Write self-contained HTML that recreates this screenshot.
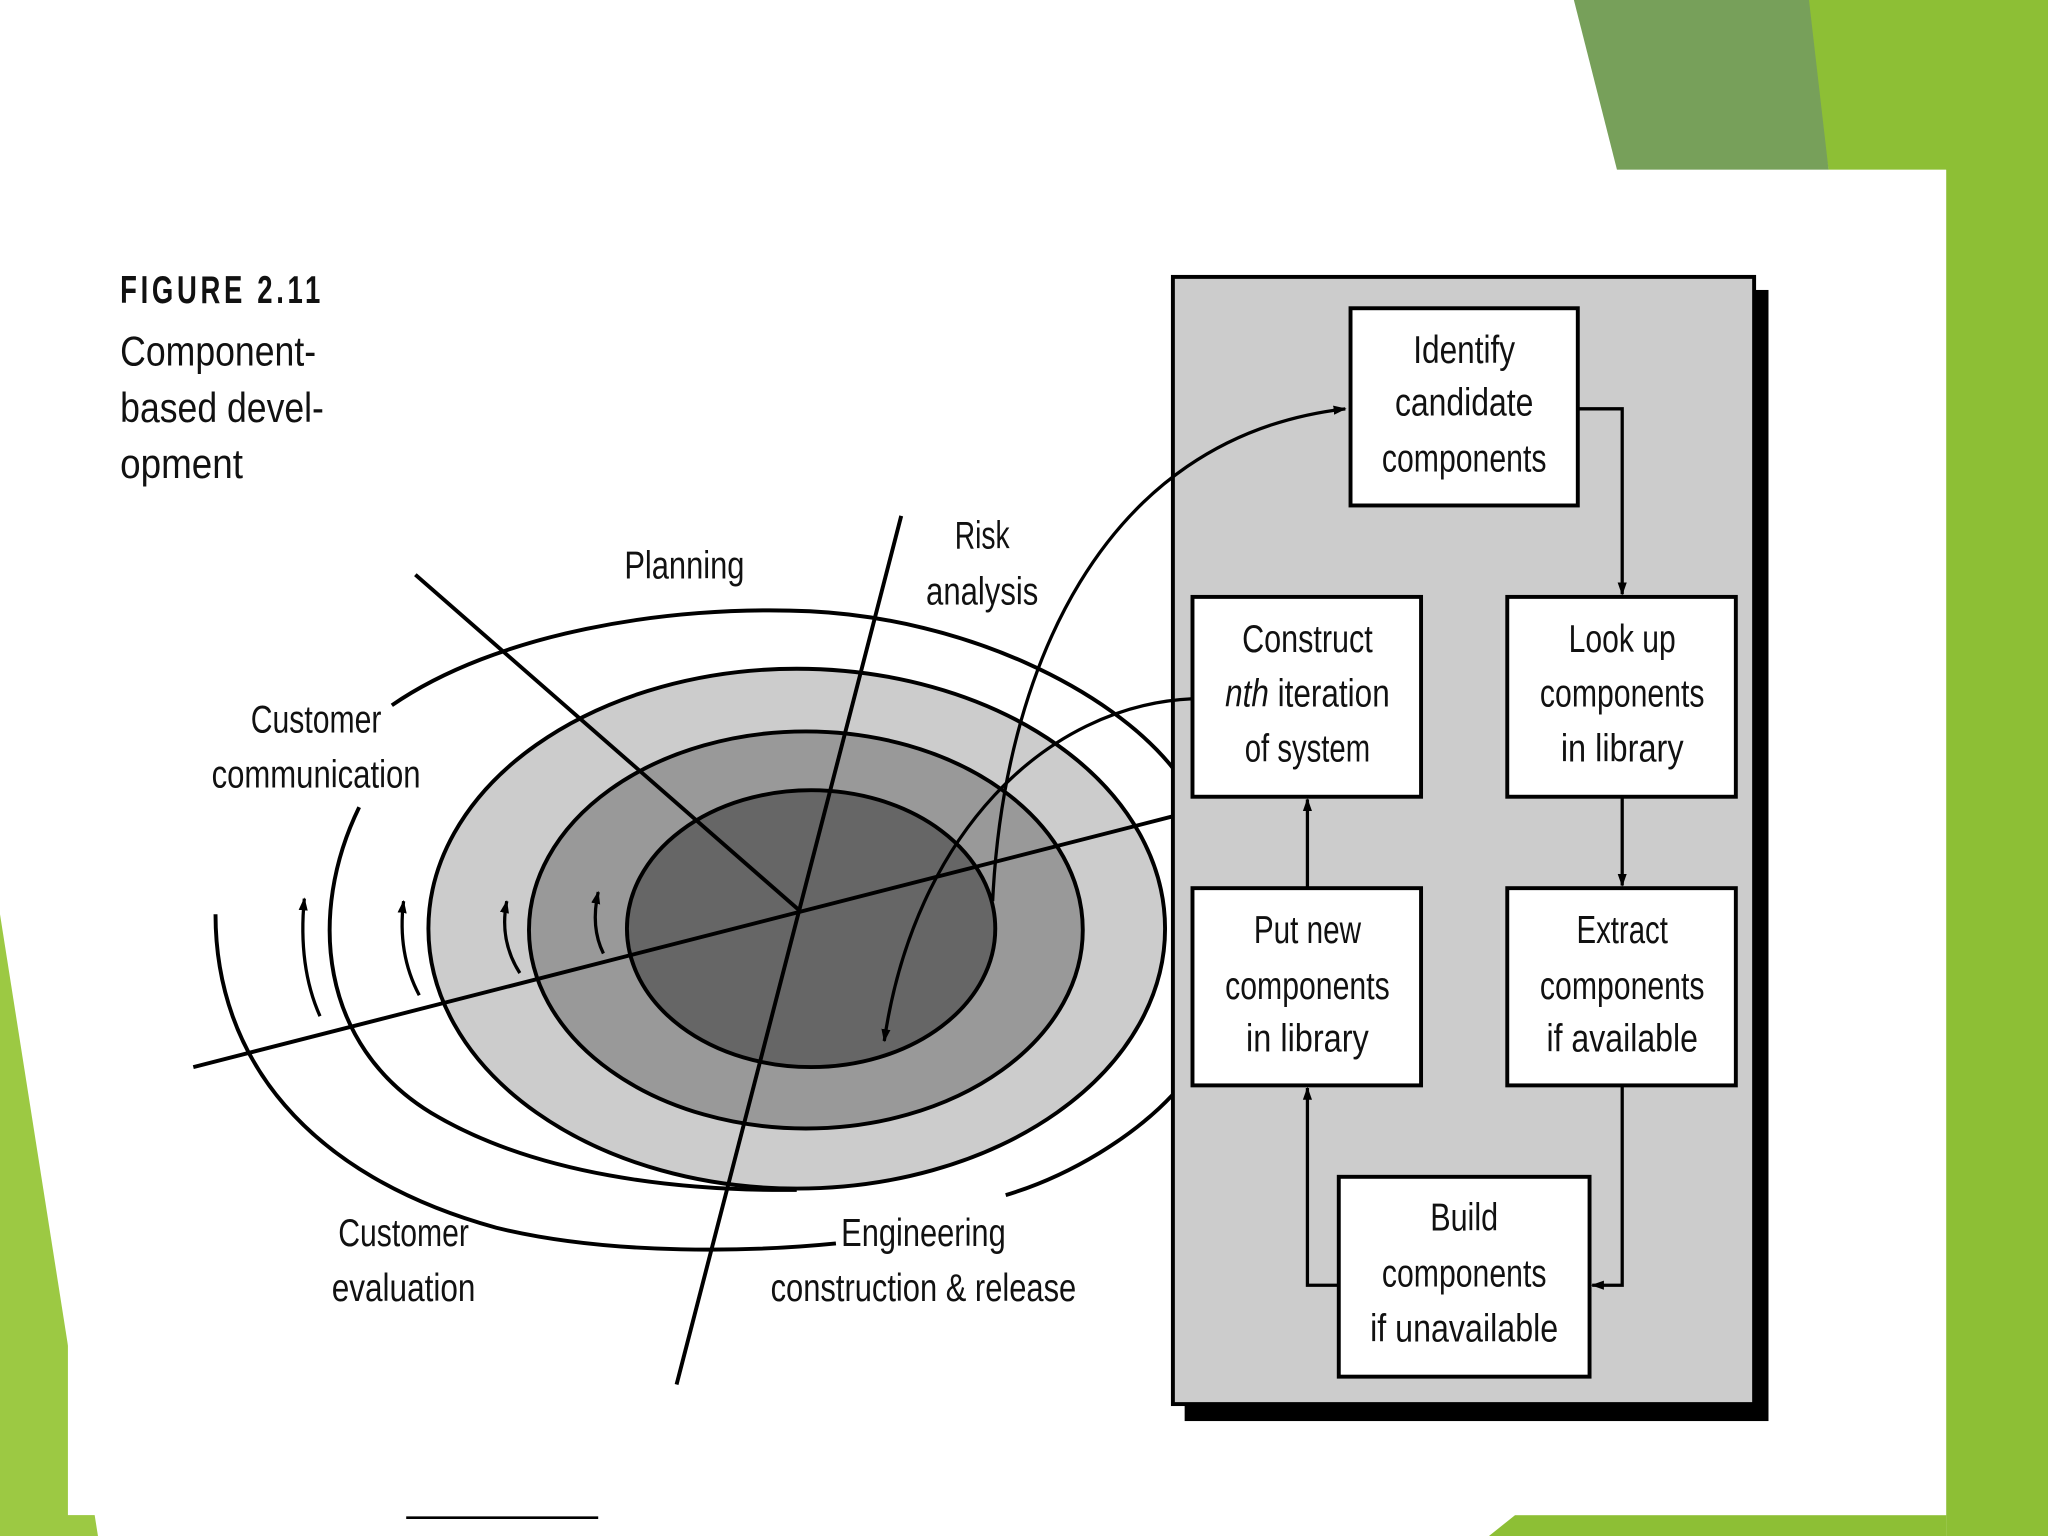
<!DOCTYPE html>
<html><head><meta charset="utf-8"><style>
html,body{margin:0;padding:0;background:#fff;overflow:hidden}
svg{display:block}
text{font-family:"Liberation Sans",sans-serif;fill:#111}
</style></head><body>
<svg width="2048" height="1536" viewBox="0 0 1568 1176" preserveAspectRatio="none" xmlns="http://www.w3.org/2000/svg">
<defs>
<marker id="ah" markerWidth="10" markerHeight="10" refX="9" refY="5" orient="auto" markerUnits="userSpaceOnUse">
<path d="M0,1.5 L10,5 L0,8.5 Z" fill="#000"/>
</marker>
</defs>
<rect width="1568" height="1176" fill="#fff"/>
<!-- green decor -->
<polygon points="1380,0 1568,0 1568,1176 1490,1176 1490,130 1400,130" fill="#8dbf35"/>
<polygon points="1205,0 1385,0 1400,130 1238,130" fill="#77a05a"/>
<polygon points="0,700 75,1176 0,1176" fill="#9cc943"/>
<polygon points="1140,1176 1160,1160 1490,1160 1490,1176" fill="#8dbf35"/>
<rect x="52" y="130" width="1438" height="1030" fill="#fff"/>

<!-- caption -->
<text x="92" y="232" font-size="30" font-weight="bold" letter-spacing="4" textLength="156" lengthAdjust="spacingAndGlyphs">FIGURE 2.11</text>
<text x="92" y="280" font-size="32" textLength="150" lengthAdjust="spacingAndGlyphs">Component-</text>
<text x="92" y="323" font-size="32" textLength="156" lengthAdjust="spacingAndGlyphs">based devel-</text>
<text x="92" y="366" font-size="32" textLength="94" lengthAdjust="spacingAndGlyphs">opment</text>

<!-- ellipses -->
<ellipse cx="610" cy="711" rx="282" ry="199" fill="#cccccc" stroke="#000" stroke-width="3"/>
<ellipse cx="617" cy="712" rx="212" ry="152" fill="#999999" stroke="#000" stroke-width="3"/>
<ellipse cx="621" cy="711" rx="141" ry="106" fill="#666666" stroke="#000" stroke-width="3"/>

<!-- spiral arcs -->
<g fill="none" stroke="#000" stroke-width="3">
<path d="M300,540 C380,485 510,463 620,468 C740,474 850,528 898,588"/>
<path d="M275,618 C235,700 245,800 330,852 C410,900 520,912 610,911"/>
<path d="M770,915 C820,900 868,870 898,838"/>
<path d="M165,700 C165,810 235,900 380,940 C470,962 580,958 640,952"/>
</g>
<g fill="none" stroke="#000" stroke-width="2.5" marker-end="url(#ah)">
<path d="M245,778 Q228,740 233,688"/>
<path d="M321,762 Q304,730 309,690"/>
<path d="M398,745 Q382,720 388,690"/>
<path d="M462,730 Q452,710 458,683"/>
</g>

<!-- axis lines -->
<g stroke="#000" stroke-width="3">
<line x1="318" y1="440" x2="612" y2="697"/>
<line x1="690" y1="395" x2="518" y2="1060"/>
<line x1="148" y1="817" x2="898" y2="625"/>
</g>

<!-- spiral labels -->
<text x="524" y="443" font-size="30" text-anchor="middle" textLength="92" lengthAdjust="spacingAndGlyphs">Planning</text>
<text x="752" y="420" font-size="30" text-anchor="middle" textLength="42" lengthAdjust="spacingAndGlyphs">Risk</text>
<text x="752" y="463" font-size="30" text-anchor="middle" textLength="86" lengthAdjust="spacingAndGlyphs">analysis</text>
<text x="242" y="561" font-size="30" text-anchor="middle" textLength="100" lengthAdjust="spacingAndGlyphs">Customer</text>
<text x="242" y="603" font-size="30" text-anchor="middle" textLength="160" lengthAdjust="spacingAndGlyphs">communication</text>
<text x="309" y="954" font-size="30" text-anchor="middle" textLength="100" lengthAdjust="spacingAndGlyphs">Customer</text>
<text x="309" y="996" font-size="30" text-anchor="middle" textLength="110" lengthAdjust="spacingAndGlyphs">evaluation</text>
<text x="707" y="954" font-size="30" text-anchor="middle" textLength="126" lengthAdjust="spacingAndGlyphs">Engineering</text>
<text x="707" y="996" font-size="30" text-anchor="middle" textLength="234" lengthAdjust="spacingAndGlyphs">construction &amp; release</text>

<!-- panel -->
<rect x="907" y="222" width="447" height="866" fill="#000"/>
<rect x="898" y="212" width="445" height="863" fill="#cccccc" stroke="#000" stroke-width="3"/>

<!-- curves from panel -->
<path d="M760,690 C768,520 840,335 1030,313" fill="none" stroke="#000" stroke-width="2.5" marker-end="url(#ah)"/>
<path d="M913,535 C800,540 700,640 677,797" fill="none" stroke="#000" stroke-width="2.5" marker-end="url(#ah)"/>

<!-- boxes -->
<g fill="#fff" stroke="#000" stroke-width="3">
<rect x="1034" y="236" width="174" height="151"/>
<rect x="913" y="457" width="175" height="153"/>
<rect x="1154" y="457" width="175" height="153"/>
<rect x="913" y="680" width="175" height="151"/>
<rect x="1154" y="680" width="175" height="151"/>
<rect x="1025" y="901" width="192" height="153"/>
</g>

<!-- connectors -->
<g fill="none" stroke="#000" stroke-width="2.5">
<path d="M1208,313 H1242 V455" marker-end="url(#ah)"/>
<path d="M1242,610 V678" marker-end="url(#ah)"/>
<path d="M1242,831 V984 H1219" marker-end="url(#ah)"/>
<path d="M1025,984 H1001 V833" marker-end="url(#ah)"/>
<path d="M1001,680 V612" marker-end="url(#ah)"/>
</g>

<!-- box text -->
<g font-size="30" text-anchor="middle">
<text x="1121" y="278" textLength="78" lengthAdjust="spacingAndGlyphs">Identify</text>
<text x="1121" y="318" textLength="106" lengthAdjust="spacingAndGlyphs">candidate</text>
<text x="1121" y="361" textLength="126" lengthAdjust="spacingAndGlyphs">components</text>

<text x="1001" y="499" textLength="100" lengthAdjust="spacingAndGlyphs">Construct</text>
<text x="1001" y="541" textLength="126" lengthAdjust="spacingAndGlyphs"><tspan font-style="italic">nth</tspan> iteration</text>
<text x="1001" y="583" textLength="96" lengthAdjust="spacingAndGlyphs">of system</text>

<text x="1242" y="499" textLength="82" lengthAdjust="spacingAndGlyphs">Look up</text>
<text x="1242" y="541" textLength="126" lengthAdjust="spacingAndGlyphs">components</text>
<text x="1242" y="583" textLength="94" lengthAdjust="spacingAndGlyphs">in library</text>

<text x="1001" y="722" textLength="82" lengthAdjust="spacingAndGlyphs">Put new</text>
<text x="1001" y="765" textLength="126" lengthAdjust="spacingAndGlyphs">components</text>
<text x="1001" y="805" textLength="94" lengthAdjust="spacingAndGlyphs">in library</text>

<text x="1242" y="722" textLength="70" lengthAdjust="spacingAndGlyphs">Extract</text>
<text x="1242" y="765" textLength="126" lengthAdjust="spacingAndGlyphs">components</text>
<text x="1242" y="805" textLength="116" lengthAdjust="spacingAndGlyphs">if available</text>

<text x="1121" y="942" textLength="52" lengthAdjust="spacingAndGlyphs">Build</text>
<text x="1121" y="985" textLength="126" lengthAdjust="spacingAndGlyphs">components</text>
<text x="1121" y="1027" textLength="144" lengthAdjust="spacingAndGlyphs">if unavailable</text>
</g>

<line x1="311" y1="1162" x2="458" y2="1162" stroke="#000" stroke-width="2"/>
</svg>
</body></html>
